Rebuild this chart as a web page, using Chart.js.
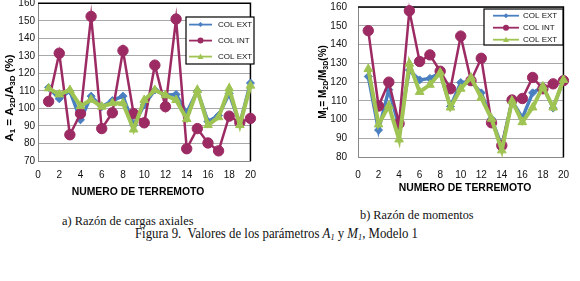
<!DOCTYPE html>
<html lang="es">
<head>
<meta charset="utf-8">
<script src="https://cdn.jsdelivr.net/npm/chart.js@4.4.1/dist/chart.umd.min.js"></script>
<style>
  html, body { margin: 0; padding: 0; background: #fff; overflow: hidden; }
  body { width: 580px; height: 281px; position: relative; }
  .chartBox { position: absolute; top: -10px; height: 210px; }
  #boxAxial { left: 0; width: 264px; }
  #boxMom { left: 290px; width: 291px; }
  .caption { position: absolute; font-family: "Liberation Serif", "Times New Roman", serif; color: #111; white-space: nowrap; line-height: 16px; transform-origin: 0 50%; }
  .caption sub { font-size: 9px; vertical-align: -2px; line-height: 0; }
</style>
</head>
<body>
<div class="chartBox" id="boxAxial"><canvas id="chartAxial"></canvas></div>
<div class="chartBox" id="boxMom"><canvas id="chartMom"></canvas></div>
<div class="caption" style="left:62px; top:213px; font-size:13.5px; transform:scaleX(0.92);">a) Razón de cargas axiales</div>
<div class="caption" style="left:360px; top:207px; font-size:13.5px; transform:scaleX(0.91);">b) Razón de momentos</div>
<div class="caption" style="left:135px; top:226px; font-size:14px; transform:scaleX(0.915);">Figura 9.&nbsp; Valores de los parámetros <i>A<sub>1</sub></i> y <i>M<sub>1</sub>,</i> Modelo 1</div>
<script>
'use strict';

// numero de terremoto (eje x)
const terremotos = [1, 2, 3, 4, 5, 6, 7, 8, 9, 10, 11, 12, 13, 14, 15, 16, 17, 18, 19, 20];
const xTicks = { min: 0, max: 20, step: 2 };

// a) razon de cargas axiales A1 (%)
const axialExt1 = [112, 105.5, 110, 93.5, 107, 101, 104.5, 107, 90.5, 102, 110.5, 107.5, 108, 97.5, 110, 92.5, 96, 108.5, 91, 114.5];
const axialInt = [104, 131.5, 85, 97, 152.5, 88.5, 97.5, 133, 97, 91.8, 124.7, 101, 151, 77, 88.5, 80.3, 75.8, 95.6, 92, 94.3];
const axialExt2 = [111.5, 108, 110.5, 101.3, 105, 101, 103, 103, 88, 104.8, 110.5, 107.5, 104.8, 94, 110.5, 90.5, 95, 111.4, 90.5, 113];
const axialTicks = { min: 70, max: 160, step: 10 };

// b) razon de momentos M1 (%)
const momExt1 = [123, 94.5, 116, 96.5, 126.4, 121.2, 122, 125, 107, 119.8, 120.3, 114.3, 100.5, 85.8, 110, 101, 114.3, 117.7, 106.2, 121.2];
const momInt = [147.4, 107.3, 120, 98, 158, 131, 134.5, 125.8, 116.5, 144.5, 120.8, 132.7, 98.4, 86.3, 110.5, 111.3, 122.5, 116.5, 119.1, 120.8];
const momExt2 = [127, 97.5, 107.4, 89.5, 129.8, 114.8, 118.6, 125.1, 106.5, 116.5, 122.4, 111.7, 100.5, 83.7, 110, 98.7, 106.5, 117.7, 106.5, 121.2];
const momTicks = { min: 80, max: 160, step: 10 };

const seriesLabels = ['COL EXT', 'COL INT', 'COL EXT'];

(function () {
  const FONT = '"Liberation Sans", Arial, sans-serif';
  const BLUE = '#4a7fc1';
  const PURPLE = '#9c2b63';
  const GREEN = '#9fc453';

  Chart.defaults.font.family = FONT;
  Chart.defaults.color = '#111';

  /**
   * Builds one line series from a list of y values.
   */
  function serie(label, ys, color, style, radius, width, order) {
    return {
      label: label,
      data: ys.map((y, i) => ({ x: terremotos[i], y: y })),
      borderColor: color,
      backgroundColor: color,
      pointBackgroundColor: color,
      pointBorderColor: color,
      pointStyle: style,
      pointRadius: radius,
      pointBorderWidth: 1,
      borderWidth: width,
      tension: 0,
      order: order,
      clip: false
    };
  }

  function drawMarker(ctx, style, x, y, r, color) {
    ctx.fillStyle = color;
    ctx.beginPath();
    if (style === 'circle') {
      ctx.arc(x, y, r, 0, Math.PI * 2);
    } else if (style === 'rectRot') {
      ctx.moveTo(x, y - r); ctx.lineTo(x + r, y); ctx.lineTo(x, y + r); ctx.lineTo(x - r, y);
    } else {
      ctx.moveTo(x, y - r); ctx.lineTo(x + r, y + r * 0.8); ctx.lineTo(x - r, y + r * 0.8);
    }
    ctx.closePath();
    ctx.fill();
  }

  // text with subscripts, optionally rotated (y axis title)
  function drawRich(ctx, parts, x, y, size, rotate) {
    const big = 'bold ' + size + 'px ' + FONT;
    const small = 'bold ' + Math.round(size * 0.68) + 'px ' + FONT;
    ctx.save();
    ctx.translate(x, y);
    if (rotate) ctx.rotate(-Math.PI / 2);
    let w = 0;
    parts.forEach(p => { ctx.font = p.sub ? small : big; w += ctx.measureText(p.t).width; });
    let cx = -w / 2;
    ctx.textBaseline = 'middle';
    ctx.fillStyle = '#000';
    parts.forEach(p => {
      ctx.font = p.sub ? small : big;
      ctx.fillText(p.t, cx, p.sub ? size * 0.28 : 0);
      cx += ctx.measureText(p.t).width;
    });
    ctx.restore();
  }

  const excelFrame = {
    id: 'excelFrame',
    beforeDatasetsDraw(chart) {
      const { ctx, chartArea: a } = chart;
      ctx.save();
      ctx.strokeStyle = '#000';
      ctx.lineWidth = 1.5;
      ctx.beginPath();
      ctx.moveTo(a.left, a.top);
      ctx.lineTo(a.right, a.top);
      ctx.lineTo(a.right, a.bottom);
      ctx.stroke();
      ctx.restore();
    },
    afterDraw(chart, args, opts) {
      const ctx = chart.ctx;
      drawRich(ctx, opts.yTitle, opts.yTitlePos[0], opts.yTitlePos[1], opts.yTitleSize, true);
      drawRich(ctx, [{ t: 'NUMERO DE TERREMOTO' }], opts.xTitlePos[0], opts.xTitlePos[1], 10.4, false);

      const lg = opts.legend;
      ctx.save();
      ctx.fillStyle = '#fff';
      ctx.fillRect(lg.x, lg.y, lg.w, lg.h);
      ctx.strokeStyle = '#000';
      ctx.lineWidth = 1.2;
      ctx.strokeRect(lg.x, lg.y, lg.w, lg.h);
      ctx.font = '8px ' + FONT;
      ctx.textBaseline = 'middle';
      chart.data.datasets.forEach((ds, i) => {
        const y = lg.y + lg.first + i * lg.gap;
        ctx.strokeStyle = ds.borderColor;
        ctx.lineWidth = 1.8;
        ctx.beginPath();
        ctx.moveTo(lg.x + lg.l0, y);
        ctx.lineTo(lg.x + lg.l1, y);
        ctx.stroke();
        drawMarker(ctx, ds.pointStyle, lg.x + (lg.l0 + lg.l1) / 2, y, ds.pointStyle === 'rectRot' ? 2.5 : 3, ds.borderColor);
        ctx.fillStyle = '#111';
        ctx.fillText(ds.label, lg.x + lg.tx, y + 0.5);
      });
      ctx.restore();
    }
  };

  function makeChart(id, sets, yt, cfg) {
    return new Chart(document.getElementById(id), {
      type: 'line',
      data: {
        datasets: [
          serie(seriesLabels[0], sets[0], BLUE, 'rectRot', 4, 3.5, 2),
          serie(seriesLabels[1], sets[1], PURPLE, 'circle', 5.2, 2.5, 1),
          serie(seriesLabels[2], sets[2], GREEN, 'triangle', 5, 4, 0)
        ]
      },
      options: {
        responsive: true,
        maintainAspectRatio: false,
        animation: false,
        events: [],
        layout: { padding: cfg.padding },
        plugins: {
          legend: { display: false },
          tooltip: { enabled: false },
          excelFrame: cfg.frame
        },
        scales: {
          x: {
            type: 'linear',
            min: xTicks.min,
            max: xTicks.max,
            ticks: { stepSize: xTicks.step, padding: cfg.xPad, font: { size: 10 }, color: '#111' },
            grid: { display: false, drawTicks: false },
            border: { display: true, color: '#888', width: 1 },
            afterFit: s => { s.height = cfg.xHeight; }
          },
          y: {
            min: yt.min,
            max: yt.max,
            ticks: { stepSize: yt.step, padding: cfg.yPad, font: { size: 10 }, color: '#111' },
            grid: { color: '#a8a8a8', lineWidth: 1, drawTicks: false },
            border: { display: true, color: '#888', width: 1 },
            afterFit: s => { s.width = cfg.yWidth; }
          }
        }
      },
      plugins: [excelFrame]
    });
  }

  makeChart('chartAxial', [axialExt1, axialInt, axialExt2], axialTicks, {
    padding: { top: 13.3, right: 8, bottom: 0, left: 0 },
    xHeight: 39, yWidth: 38, xPad: 8, yPad: 3,
    frame: {
      yTitle: [{ t: 'A' }, { t: '1', sub: true }, { t: ' = A' }, { t: '2D', sub: true }, { t: '/A' }, { t: '3D', sub: true }, { t: ' (%)' }],
      yTitlePos: [10, 108], yTitleSize: 11.5,
      xTitlePos: [138, 202.5],
      legend: { x: 186, y: 27, w: 68, h: 47, first: 7.6, gap: 16, l0: 3, l1: 26, tx: 32 }
    }
  });

  makeChart('chartMom', [momExt1, momInt, momExt2], momTicks, {
    padding: { top: 13.5, right: 6, bottom: 0, left: 0 },
    xHeight: 42.7, yWidth: 68, xPad: 12, yPad: 11,
    frame: {
      yTitle: [{ t: 'M' }, { t: '1', sub: true }, { t: '= M' }, { t: '2D', sub: true }, { t: '/M' }, { t: '3D', sub: true }, { t: '(%)' }],
      yTitlePos: [33, 92], yTitleSize: 10,
      xTitlePos: [175, 198.5],
      legend: { x: 194, y: 19, w: 79, h: 36, first: 6.7, gap: 12, l0: 9, l1: 35, tx: 39 }
    }
  });
})();
</script>
</body>
</html>
